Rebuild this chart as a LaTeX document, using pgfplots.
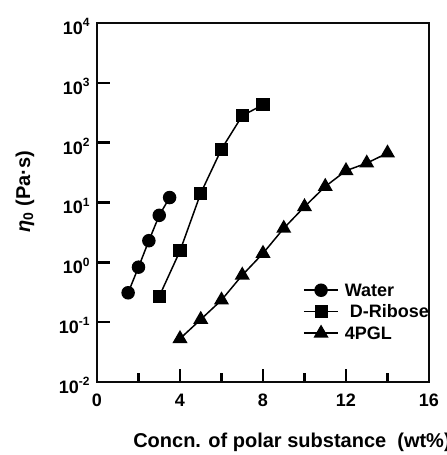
\documentclass[border=0pt]{standalone}
\usepackage{pgfplots}
\pgfplotsset{compat=1.18}
\usepackage{fontspec}
\setmainfont{Liberation Sans}

\pgfplotstableread{
x y
1.5 0.31
2.0 0.83
2.5 2.3
3.0 6.1
3.5 12.1
}\water
\pgfplotstableread{
x y
3 0.27
4 1.55
5 14.3
6 78
7 282
8 430
}\ribose
\pgfplotstableread{
x y
4 0.053
5 0.111
6 0.234
7 0.61
8 1.41
9 3.7
10 8.5
11 18.5
12 34
13 45.5
14 67
}\pgl

\definecolor{frame}{RGB}{10,10,10}

\begin{document}
\begin{tikzpicture}
% fixes the page to the reference frame; the x label runs past the right edge as in the original
\path (-48.5pt,-36.5pt) rectangle (174.5pt,191pt);
\begin{axis}[
    at={(0,0)}, anchor=south west,
    scale only axis,
    width=166pt, height=179.5pt,
    ymode=log,
    xmin=0, xmax=16,
    ymin=1e-2, ymax=1e4,
    clip=false,
    axis line style={line width=1.2pt},
    every tick/.style={black, line width=1.2pt},
    tick align=inside,
    xtick={0,4,8,12,16},
    minor xtick={2,6,10,14},
    major tick length=6.5pt,
    minor tick length=4.5pt,
    xtick pos=bottom, ytick pos=left,
    ytick={1e-2,1e-1,1e0,1e1,1e2,1e3,1e4},
    yminorticks=false,
    yticklabels={\textbf{10\textsuperscript{-2}},\textbf{10\textsuperscript{-1}},\textbf{10\textsuperscript{0}},\textbf{10\textsuperscript{1}},\textbf{10\textsuperscript{2}},\textbf{10\textsuperscript{3}},\textbf{10\textsuperscript{4}}},
    xticklabel={\textbf{\pgfmathprintnumber{\tick}}},
    /pgf/number format/assume math mode=true,
    tick label style={font=\fontsize{9}{11}\selectfont},
    yticklabel style={inner sep=0pt, xshift=-3pt, yshift=-1.75pt},
    xticklabel style={inner sep=0pt, yshift=-6pt},
    xlabel={\textbf{Concn. of polar substance\ \ (wt\%)}},
    xlabel style={overlay, at={(axis description cs:0.108,-0.169)}, anchor=west, inner sep=0pt, font=\fontsize{10}{12}\selectfont},
    ylabel={\textbf{\textit{η}\textsubscript{0} (Pa·s)}},
    ylabel style={at={(axis description cs:-0.217,0.53)}, anchor=center, inner sep=0pt, font=\fontsize{10}{12}\selectfont},
    legend style={at={(axis description cs:0.62,0.279)}, anchor=north west, draw=none, fill=none,
        font=\fontsize{9}{11}\selectfont, inner sep=0pt, row sep=2.75pt,
        nodes={inner sep=0.5pt, text height=6.5pt, text depth=0.5pt}},
    legend cell align=left,
]
\addplot[black, line width=0.75pt, mark=*, mark size=3pt] table[x=x,y=y] {\water};
\addlegendentry{\hspace{2.5pt}\textbf{Water}}
\addplot[black, line width=0.75pt, mark=square*, mark size=2.9pt] table[x=x,y=y] {\ribose};
\addlegendentry{\hspace{5pt}\textbf{D-Ribose}}
\addplot[black, line width=0.75pt, mark=triangle*, mark size=3.6pt] table[x=x,y=y] {\pgl};
\addlegendentry{\hspace{2.5pt}\textbf{4PGL}}
% full frame, drawn again so the top and right sides show
\draw[frame, line width=1.2pt] (rel axis cs:0,0) rectangle (rel axis cs:1,1);
\end{axis}
\end{tikzpicture}
\end{document}
